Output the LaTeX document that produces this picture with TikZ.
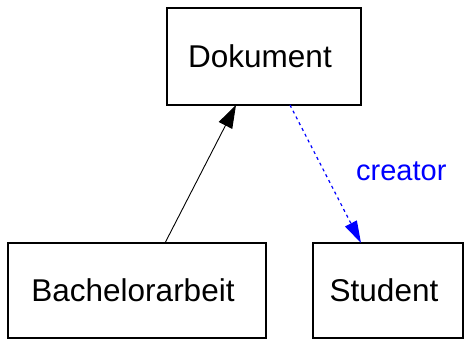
\documentclass[tikz,border=0pt]{standalone}
\usepackage{fontspec}
\setmainfont{Liberation Sans}
\usetikzlibrary{arrows.meta}
\definecolor{linkblue}{RGB}{0,0,255}
% trailing space nudges each class name a little left of the box centre
\newcommand{\classname}[1]{#1\hspace*{8pt}}
\begin{document}
\begin{tikzpicture}[x=1pt,y=-1pt,
  classbox/.style={draw=black, line width=1.4pt, fill=white, inner sep=0pt,
    font=\fontsize{31.5}{36}\selectfont},
  assoc/.style={line width=0.9pt, -{Triangle[length=23pt,width=15pt]}},
  depend/.style={linkblue, line width=1.2pt, dash pattern=on 3pt off 3.5pt,
    -{Triangle[length=22pt,width=13pt]}}]
  \useasboundingbox (0,0) rectangle (464,340);
  % class boxes
  \node[classbox, minimum width=194pt, minimum height=97pt] (dok) at (264,56.5) {\classname{Dokument}};
  \node[classbox, minimum width=258pt, minimum height=95pt] (ba) at (137,290.5) {\classname{Bachelorarbeit}};
  \node[classbox, minimum width=150pt, minimum height=95pt] (stu) at (388,290.5) {\classname{Student}};
  % anchor points on the box borders
  \coordinate (baTop) at (165,243);
  \coordinate (dokBotL) at (236,105);
  \coordinate (dokBotR) at (290,105);
  \coordinate (stuTop) at (361,243);
  % connectors
  \draw[assoc] (baTop) -- (dokBotL);
  \draw[depend] (dokBotR) -- (stuTop);
  \node[text=linkblue, font=\fontsize{29}{32}\selectfont, anchor=west, inner sep=0pt] (lbl) at (356,171) {creator};
\end{tikzpicture}
\end{document}
